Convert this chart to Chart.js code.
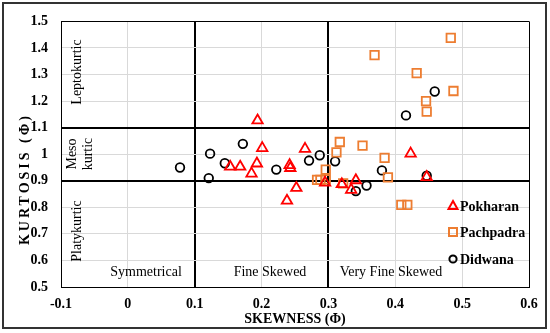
<!DOCTYPE html>
<html>
<head>
<meta charset="utf-8">
<script src="https://cdn.jsdelivr.net/npm/chart.js@4.4.1/dist/chart.umd.min.js"></script>
<style>
  html, body { margin: 0; padding: 0; background: #fff; }
  canvas { display: block; }
</style>
</head>
<body>
<canvas id="grafico" width="550" height="333"></canvas>
<script>
// valores
const xTicks = [-0.1, 0, 0.1, 0.2, 0.3, 0.4, 0.5, 0.6];
const yTicks = [0.5, 0.6, 0.7, 0.8, 0.9, 1.0, 1.1, 1.2, 1.3, 1.4, 1.5];
const skewLimits = [0.1, 0.3];
const kurtLimits = [0.9, 1.1];

const seriesNames = ['Pokharan', 'Pachpadra', 'Didwana'];

const pokharanSkew = [0.194, 0.153, 0.168, 0.201, 0.193, 0.185, 0.265, 0.242, 0.243, 0.252, 0.238, 0.295, 0.320, 0.341, 0.334, 0.423, 0.447];
const pokharanKurt = [1.127, 0.953, 0.953, 1.023, 0.965, 0.927, 1.020, 0.959, 0.948, 0.873, 0.825, 0.893, 0.887, 0.902, 0.866, 1.002, 0.914];

const pachpadraSkew = [0.483, 0.369, 0.432, 0.487, 0.446, 0.447, 0.317, 0.312, 0.351, 0.296, 0.283, 0.288, 0.296, 0.322, 0.384, 0.389, 0.409, 0.418];
const pachpadraKurt = [1.438, 1.373, 1.305, 1.238, 1.200, 1.160, 1.046, 1.007, 1.032, 0.942, 0.903, 0.903, 0.905, 0.890, 0.986, 0.913, 0.809, 0.809];

const didwanaSkew = [0.078, 0.123, 0.121, 0.172, 0.145, 0.222, 0.271, 0.287, 0.310, 0.341, 0.357, 0.380, 0.447, 0.416, 0.459];
const didwanaKurt = [0.950, 1.002, 0.910, 1.039, 0.966, 0.942, 0.976, 0.996, 0.973, 0.861, 0.882, 0.939, 0.919, 1.146, 1.236];

const seriesColors = ['#FF0000', '#ED7D31', '#000000'];
const seriesStyles = ['triangle', 'rect', 'circle'];

function pontos(xs, ys) {
    return xs.map((v, i) => ({ x: v, y: ys[i] }));
}

function ehLimite(v, lista) {
    return lista.some(l => Math.abs(l - v) < 1e-6);
}

const serif = '"Liberation Serif", "Times New Roman", serif';
Chart.defaults.font.family = serif;
Chart.defaults.color = '#000';

const overlay = {
    id: 'overlay',
    afterDatasetsDraw(chart) {
        const { ctx, scales: { x, y } } = chart;
        ctx.save();
        ctx.fillStyle = '#000';
        ctx.textAlign = 'center';
        ctx.textBaseline = 'middle';
        ctx.font = '14px ' + serif;

        // classes de assimetria
        ctx.fillText('Symmetrical', 146, 272);
        ctx.fillText('Fine Skewed', 270, 272);
        ctx.fillText('Very Fine Skewed', 391, 272);

        // classes de curtose (texto vertical)
        function vertical(txt, cx, cy) {
            ctx.save();
            ctx.translate(cx, cy);
            ctx.rotate(-Math.PI / 2);
            ctx.fillText(txt, 0, 0);
            ctx.restore();
        }
        vertical('Leptokurtic', 77, 72);
        vertical('Meso', 72, 154);
        vertical('kurtic', 88, 154);
        vertical('Platykurtic', 77, 231);

        // titulo do eixo y
        ctx.font = 'bold 14px ' + serif;
        ctx.letterSpacing = '3px';
        vertical('KURTOSIS (\u03A6)', 25, 179);
        ctx.letterSpacing = '0px';

        // legenda
        const legY = [206, 232, 259];
        ctx.textAlign = 'left';
        seriesNames.forEach((nome, i) => {
            const mx = 453, my = legY[i];
            ctx.strokeStyle = seriesColors[i];
            ctx.lineWidth = 2;
            ctx.beginPath();
            if (seriesStyles[i] === 'triangle') {
                ctx.moveTo(mx, my - 5);
                ctx.lineTo(mx + 4.5, my + 3);
                ctx.lineTo(mx - 4.5, my + 3);
                ctx.closePath();
            } else if (seriesStyles[i] === 'rect') {
                ctx.rect(mx - 4, my - 4, 8, 8);
            } else {
                ctx.arc(mx, my, 3.6, 0, Math.PI * 2);
            }
            ctx.stroke();
            ctx.fillStyle = '#000';
            ctx.fillText(nome, 460, my + 1);
        });

        // moldura externa
        ctx.strokeStyle = '#333';
        ctx.lineWidth = 2;
        ctx.strokeRect(3, 3, 543, 325);
        ctx.restore();
    }
};

new Chart(document.getElementById('grafico'), {
    type: 'scatter',
    data: {
        datasets: [
            { label: seriesNames[0], data: pontos(pokharanSkew, pokharanKurt) },
            { label: seriesNames[1], data: pontos(pachpadraSkew, pachpadraKurt) },
            { label: seriesNames[2], data: pontos(didwanaSkew, didwanaKurt) },
        ].map((d, i) => Object.assign(d, {
            pointStyle: seriesStyles[i],
            borderColor: seriesColors[i],
            backgroundColor: 'rgba(0,0,0,0)',
            pointBorderWidth: 1.8,
            pointRadius: [6, 6, 4.3][i],
            pointHoverRadius: [6, 6, 4.3][i],
        }))
    },
    options: {
        responsive: false,
        animation: false,
        devicePixelRatio: 1,
        layout: { padding: { top: 18, right: 21, left: 0, bottom: 0 } },
        plugins: {
            legend: { display: false },
            tooltip: { enabled: false },
        },
        scales: {
            x: {
                type: 'linear',
                min: -0.1,
                max: 0.6,
                afterBuildTicks: s => { s.ticks = xTicks.map(v => ({ value: v })); },
                afterFit: s => { s.height = 46; },
                ticks: {
                    font: { size: 14, weight: 'bold' },
                    padding: 9,
                    maxRotation: 0,
                    callback: v => String(Math.round(v * 10) / 10),
                },
                grid: {
                    drawTicks: false,
                    color: c => (ehLimite(c.tick.value, skewLimits) || c.tick.value === 0.6) ? '#000' : '#d9d9d9',
                    lineWidth: c => ehLimite(c.tick.value, skewLimits) ? 2 : 1,
                },
                border: { color: '#000', width: 1 },
                title: {
                    display: true,
                    text: 'SKEWNESS (\u03A6)',
                    font: { size: 14, weight: 'bold' },
                    padding: { top: 0, bottom: 5 },
                },
            },
            y: {
                type: 'linear',
                min: 0.5,
                max: 1.5,
                afterBuildTicks: s => { s.ticks = yTicks.map(v => ({ value: v })); },
                afterFit: s => { s.width = 61; },
                ticks: {
                    font: { size: 14, weight: 'bold' },
                    padding: 13,
                    callback: v => String(Math.round(v * 10) / 10),
                },
                grid: {
                    drawTicks: false,
                    color: c => (ehLimite(c.tick.value, kurtLimits) || c.tick.value === 1.5) ? '#000' : '#d9d9d9',
                    lineWidth: c => ehLimite(c.tick.value, kurtLimits) ? 2 : 1,
                },
                border: { color: '#000', width: 1 },
            },
        },
    },
    plugins: [overlay],
});
</script>
</body>
</html>
